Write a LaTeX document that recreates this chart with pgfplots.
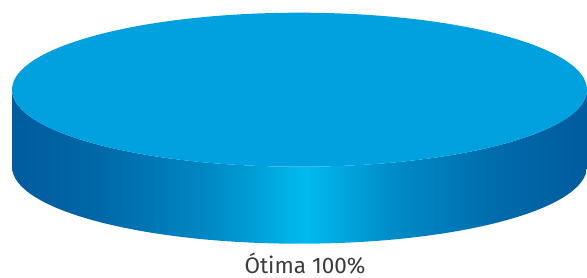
\documentclass[border=0pt]{standalone}
\usepackage{pgfplots}
\pgfplotsset{compat=1.18}
\usepackage{fontspec}
\setmainfont{Fira Sans}
\definecolor{topc}{RGB}{0,161,222}
\definecolor{txt}{RGB}{60,60,60}
\definecolor{sA}{RGB}{0,92,158}
\definecolor{sB}{RGB}{0,104,168}
\definecolor{sC}{RGB}{0,138,198}
\definecolor{sD}{RGB}{0,186,238}
\definecolor{sE}{RGB}{0,140,200}
\definecolor{sF}{RGB}{0,106,170}
\pgfdeclarehorizontalshading{sideshade}{100bp}{%
  color(0bp)=(sA);
  color(25bp)=(sA);
  color(32.5bp)=(sB);
  color(42.5bp)=(sC);
  color(50.5bp)=(sD);
  color(58bp)=(sE);
  color(67.5bp)=(sF);
  color(75bp)=(sA);
  color(100bp)=(sA)}
\def\valOtima{100}
\begin{document}
\begin{tikzpicture}
\begin{axis}[
  width=587pt, height=278pt, scale only axis,
  xmin=0, xmax=587, ymin=0, ymax=278,
  hide axis, clip=false, enlargelimits=false]
% side
\path[shading=sideshade]
  (axis cs:12,188.3) -- (axis cs:12,111.3)
  arc[start angle=180, end angle=360, x radius=287.5pt, y radius=77pt]
  -- (axis cs:587,188.3)
  arc[start angle=0, end angle=-180, x radius=287.5pt, y radius=77pt] -- cycle;
% top
\fill[topc] (axis cs:299.5,188.3) ellipse[x radius=287.5pt, y radius=77pt];
\node[anchor=base, inner sep=0pt, text=txt, font=\fontsize{22.5}{26}\selectfont]
  at (axis cs:305,4) {Ótima \valOtima\%};
\path (axis cs:0,0) rectangle (axis cs:587,278);
\end{axis}
\end{tikzpicture}
\end{document}
